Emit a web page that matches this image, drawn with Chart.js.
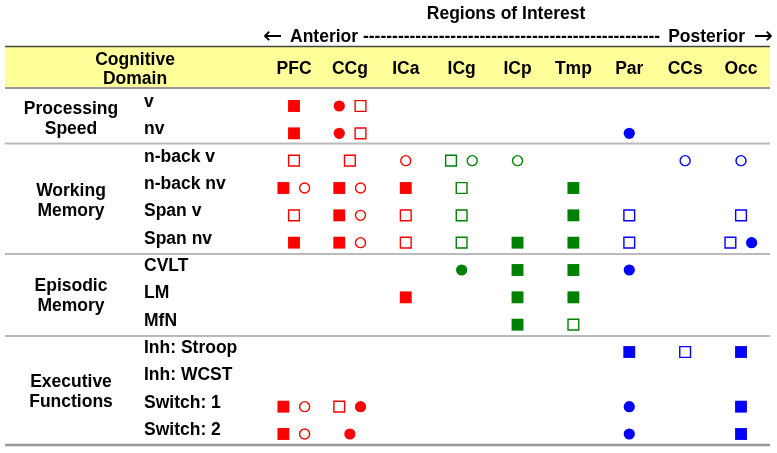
<!DOCTYPE html>
<html>
<head>
<meta charset="utf-8">
<script src="https://cdn.jsdelivr.net/npm/chart.js@4/dist/chart.umd.min.js"></script>
<style>
  html, body { margin: 0; padding: 0; background: #fff; }
  canvas { display: block; }
</style>
</head>
<body>
<canvas id="roiChart" width="777" height="453"></canvas>
<script>
// --- Data ---

// Regions of interest, anterior -> posterior
const regions = ['PFC', 'CCg', 'ICa', 'ICg', 'ICp', 'Tmp', 'Par', 'CCs', 'Occ'];

// Tasks (rows), top to bottom
const tasks = ['v', 'nv', 'n-back v', 'n-back nv', 'Span v', 'Span nv',
               'CVLT', 'LM', 'MfN', 'Inh: Stroop', 'Inh: WCST', 'Switch: 1', 'Switch: 2'];

// Cognitive domains with the first and last task row they cover
const domains = [
    { name: ['Processing', 'Speed'], first: 0, last: 1 },
    { name: ['Working', 'Memory'], first: 2, last: 5 },
    { name: ['Episodic', 'Memory'], first: 6, last: 8 },
    { name: ['Executive', 'Functions'], first: 9, last: 12 }
];

// Markers: [region, task, slot] (slot -1 = left, 0 = centre, 1 = right in a cell)
const filledSquares = [
    ['PFC', 'v', 0], ['PFC', 'nv', 0],
    ['PFC', 'n-back nv', -1], ['CCg', 'n-back nv', -1], ['ICa', 'n-back nv', 0], ['Tmp', 'n-back nv', 0],
    ['CCg', 'Span v', -1], ['Tmp', 'Span v', 0],
    ['PFC', 'Span nv', 0], ['CCg', 'Span nv', -1], ['ICp', 'Span nv', 0], ['Tmp', 'Span nv', 0],
    ['ICp', 'CVLT', 0], ['Tmp', 'CVLT', 0],
    ['ICa', 'LM', 0], ['ICp', 'LM', 0], ['Tmp', 'LM', 0],
    ['ICp', 'MfN', 0],
    ['Par', 'Inh: Stroop', 0], ['Occ', 'Inh: Stroop', 0],
    ['PFC', 'Switch: 1', -1], ['Occ', 'Switch: 1', 0],
    ['PFC', 'Switch: 2', -1], ['Occ', 'Switch: 2', 0]
];

const openSquares = [
    ['CCg', 'v', 1], ['CCg', 'nv', 1],
    ['PFC', 'n-back v', 0], ['CCg', 'n-back v', 0], ['ICg', 'n-back v', -1],
    ['ICg', 'n-back nv', 0],
    ['PFC', 'Span v', 0], ['ICa', 'Span v', 0], ['ICg', 'Span v', 0], ['Par', 'Span v', 0], ['Occ', 'Span v', 0],
    ['ICa', 'Span nv', 0], ['ICg', 'Span nv', 0], ['Par', 'Span nv', 0], ['Occ', 'Span nv', -1],
    ['Tmp', 'MfN', 0],
    ['CCs', 'Inh: Stroop', 0],
    ['CCg', 'Switch: 1', -1]
];

const filledCircles = [
    ['CCg', 'v', -1], ['CCg', 'nv', -1], ['Par', 'nv', 0],
    ['Occ', 'Span nv', 1],
    ['ICg', 'CVLT', 0], ['Par', 'CVLT', 0],
    ['CCg', 'Switch: 1', 1], ['Par', 'Switch: 1', 0],
    ['CCg', 'Switch: 2', 0], ['Par', 'Switch: 2', 0]
];

const openCircles = [
    ['ICa', 'n-back v', 0], ['ICg', 'n-back v', 1], ['ICp', 'n-back v', 0], ['CCs', 'n-back v', 0], ['Occ', 'n-back v', 0],
    ['PFC', 'n-back nv', 1], ['CCg', 'n-back nv', 1],
    ['CCg', 'Span v', 1],
    ['CCg', 'Span nv', 1],
    ['PFC', 'Switch: 1', 1],
    ['PFC', 'Switch: 2', 1]
];

// Colour per region group
const regionColors = ['#ff0000', '#ff0000', '#ff0000',
                      '#008000', '#008000', '#008000',
                      '#0000ff', '#0000ff', '#0000ff'];

// --- Helpers ---
const SLOT_OFFSET = 0.19;
const FONT = 'bold 17.5px "Liberation Sans", Arial, sans-serif';
const ARROW_FONT = '23px "DejaVu Sans", sans-serif';

function toPoints(list) {
    return list.map(([r, t, slot]) => ({
        x: regions.indexOf(r) + slot * SLOT_OFFSET,
        y: tasks.indexOf(t),
        region: regions.indexOf(r)
    }));
}

function colorOf(ctx) {
    const p = ctx.raw;
    return p ? regionColors[p.region] : '#000';
}

function makeDataset(label, list, shape, filled) {
    return {
        label: label,
        data: toPoints(list),
        pointStyle: shape,
        pointRadius: shape === 'rect' ? (filled ? 8.4 : 7.6) : (filled ? 5.6 : 5),
        borderWidth: filled ? 0 : 1.4,
        backgroundColor: filled ? colorOf : 'rgba(255,255,255,0)',
        borderColor: colorOf,
        pointHoverRadius: shape === 'rect' ? 8.4 : 5.6
    };
}

// Table background, rules and text
const tablePlugin = {
    id: 'tableDecor',
    beforeDatasetsDraw(chart) {
        const { ctx, scales: { x, y } } = chart;
        ctx.save();

        // header band
        ctx.fillStyle = '#ffff99';
        ctx.fillRect(5, 47, 765, 41);

        function rule(yPos, color, width) {
            ctx.strokeStyle = color;
            ctx.lineWidth = width;
            ctx.beginPath();
            ctx.moveTo(5, yPos);
            ctx.lineTo(770, yPos);
            ctx.stroke();
        }
        rule(46.5, '#444', 1.5);
        rule(88, '#999', 2);
        rule(143.5, '#bbb', 2);
        rule(254, '#bbb', 2);
        rule(336, '#bbb', 2);
        rule(445, '#999', 2.5);

        ctx.fillStyle = '#000';
        ctx.font = FONT;
        ctx.textBaseline = 'alphabetic';

        // title
        ctx.textAlign = 'center';
        ctx.fillText('Regions of Interest', 506, 18.5);

        // anterior / posterior arrow line
        ctx.font = ARROW_FONT;
        ctx.textAlign = 'left';
        ctx.fillText('\u2190', 263, 43);
        ctx.textAlign = 'right';
        ctx.fillText('\u2192', 773, 43);

        ctx.font = FONT;
        ctx.textAlign = 'left';
        const left = 'Anterior ';
        const right = ' Posterior';
        const startX = 290, endX = 745;
        const room = endX - startX - ctx.measureText(left).width - ctx.measureText(right).width;
        const dashW = ctx.measureText('-').width;
        const dashes = '-'.repeat(Math.max(0, Math.floor(room / dashW)));
        ctx.fillText(left + dashes, startX, 41.5);
        ctx.textAlign = 'right';
        ctx.fillText(right, endX, 41.5);

        // header
        ctx.textAlign = 'center';
        ctx.fillText('Cognitive', 135, 64.5);
        ctx.fillText('Domain', 135, 84);
        regions.forEach((r, i) => ctx.fillText(r, x.getPixelForValue(i), 74));

        // task labels
        ctx.textAlign = 'left';
        tasks.forEach((t, i) => ctx.fillText(t, 144, y.getPixelForValue(i) + 1));

        // domain labels
        ctx.textAlign = 'center';
        domains.forEach(d => {
            const mid = (y.getPixelForValue(d.first) + y.getPixelForValue(d.last)) / 2;
            ctx.fillText(d.name[0], 71, mid - 6);
            ctx.fillText(d.name[1], 71, mid + 14);
        });

        ctx.restore();
    }
};

// --- Chart ---
const ctx = document.getElementById('roiChart').getContext('2d');
new Chart(ctx, {
    type: 'scatter',
    data: {
        datasets: [
            makeDataset('filled square', filledSquares, 'rect', true),
            makeDataset('open square', openSquares, 'rect', false),
            makeDataset('filled circle', filledCircles, 'circle', true),
            makeDataset('open circle', openCircles, 'circle', false)
        ]
    },
    options: {
        responsive: false,
        animation: false,
        devicePixelRatio: 1,
        layout: { padding: 0, autoPadding: false },
        scales: {
            x: { type: 'linear', display: false, min: -5.262, max: 8.644 },
            y: { type: 'linear', display: false, reverse: true, min: -3.878, max: 12.695 }
        },
        plugins: {
            legend: { display: false },
            tooltip: { enabled: false }
        }
    },
    plugins: [tablePlugin]
});
</script>
</body>
</html>
